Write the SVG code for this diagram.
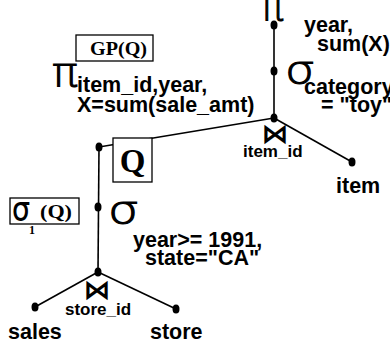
<svg xmlns="http://www.w3.org/2000/svg" width="390" height="347" viewBox="0 0 390 347">
<style>
.l{font-family:"Liberation Sans",Arial,sans-serif;font-weight:bold;font-size:21.5px;fill:#000}
.s{font-family:"Liberation Sans",Arial,sans-serif;font-weight:bold;font-size:17px;fill:#000}
.sym{font-family:"DejaVu Sans",sans-serif;font-weight:200;fill:#000;stroke:#000;stroke-width:1.1}
.j{font-family:"DejaVu Sans",sans-serif;font-weight:bold;font-size:27px;fill:#000}
.ser{font-family:"Liberation Serif","Times New Roman",serif;font-weight:bold;fill:#000}
.edge{stroke:#000;stroke-width:1.6;fill:none}
.box{stroke:#000;stroke-width:1.3;fill:#fff}
.dot{fill:#000}
</style>
<rect width="390" height="347" fill="#fff"/>
<g id="connectors">
<line class="edge" x1="274" y1="25" x2="274" y2="118"/>
<line class="edge" x1="274" y1="118" x2="99" y2="147"/>
<line class="edge" x1="274" y1="118" x2="352" y2="162"/>
<line class="edge" x1="99" y1="147" x2="98" y2="272"/>
<line class="edge" x1="98" y1="272" x2="35" y2="307"/>
<line class="edge" x1="98" y1="272" x2="176" y2="309"/>
</g>
<g id="proj-top">
<ellipse class="dot" cx="274" cy="25" rx="3.5" ry="4.5"/>
<text class="sym" x="261" y="20" font-size="40" textLength="23" lengthAdjust="spacingAndGlyphs">π</text>
<text class="l" x="304" y="32">year,</text>
<text class="l" x="317" y="51">sum(X)</text>
</g>
<g id="select-toy">
<ellipse class="dot" cx="274" cy="71" rx="3.5" ry="4.5"/>
<text class="sym" x="285" y="83" font-size="38" textLength="30" lengthAdjust="spacingAndGlyphs">σ</text>
<text class="l" x="304" y="94">category</text>
<text class="l" x="321" y="112">= "toy"</text>
</g>
<g id="join-item">
<ellipse class="dot" cx="274" cy="118" rx="3.5" ry="4.5"/>
<text class="j" x="275" y="143" text-anchor="middle">⋈</text>
<text class="s" x="243" y="157">item_id</text>
</g>
<g id="item">
<ellipse class="dot" cx="352" cy="162" rx="3.5" ry="4.5"/>
<text class="l" x="336" y="193">item</text>
</g>
<g id="gpq">
<rect class="box" x="76" y="35" width="77" height="26"/>
<text class="ser" x="90" y="55" font-size="19" textLength="57" lengthAdjust="spacingAndGlyphs">GP(Q)</text>
</g>
<g id="proj-left">
<text class="sym" x="52" y="86" font-size="40" textLength="26" lengthAdjust="spacingAndGlyphs">π</text>
<text class="l" x="77" y="92">item_id,year,</text>
<text class="l" x="77" y="112">X=sum(sale_amt)</text>
</g>
<g id="q-node">
<ellipse class="dot" cx="99" cy="147" rx="3.5" ry="4.5"/>
<rect class="box" x="113" y="138" width="39" height="44"/>
<text class="ser" x="132.5" y="172" font-size="33" text-anchor="middle">Q</text>
</g>
<g id="sigma-q">
<rect class="box" x="10" y="198" width="69" height="26"/>
<text class="sym" x="12" y="220" font-size="31" textLength="18" lengthAdjust="spacingAndGlyphs" style="stroke-width:1.8">σ</text>
<text class="ser" x="40" y="218" font-size="19" textLength="32" lengthAdjust="spacingAndGlyphs">(Q)</text>
<text class="ser" x="29" y="234" font-size="12">1</text>
</g>
<g id="select-ca">
<ellipse class="dot" cx="98" cy="207" rx="3.5" ry="4.5"/>
<text class="sym" x="108" y="223" font-size="38" textLength="31" lengthAdjust="spacingAndGlyphs">σ</text>
<text class="l" x="133" y="247">year&gt;= 1991,</text>
<text class="l" x="145" y="265">state="CA"</text>
</g>
<g id="join-store">
<ellipse class="dot" cx="98" cy="272" rx="3.5" ry="4.5"/>
<text class="j" x="97" y="299" text-anchor="middle">⋈</text>
<text class="s" x="65" y="315">store_id</text>
</g>
<g id="sales">
<ellipse class="dot" cx="35" cy="307" rx="3.5" ry="4.5"/>
<text class="l" x="8" y="339">sales</text>
</g>
<g id="store">
<ellipse class="dot" cx="176" cy="309" rx="3.5" ry="4.5"/>
<text class="l" x="150" y="339">store</text>
</g>
</svg>
